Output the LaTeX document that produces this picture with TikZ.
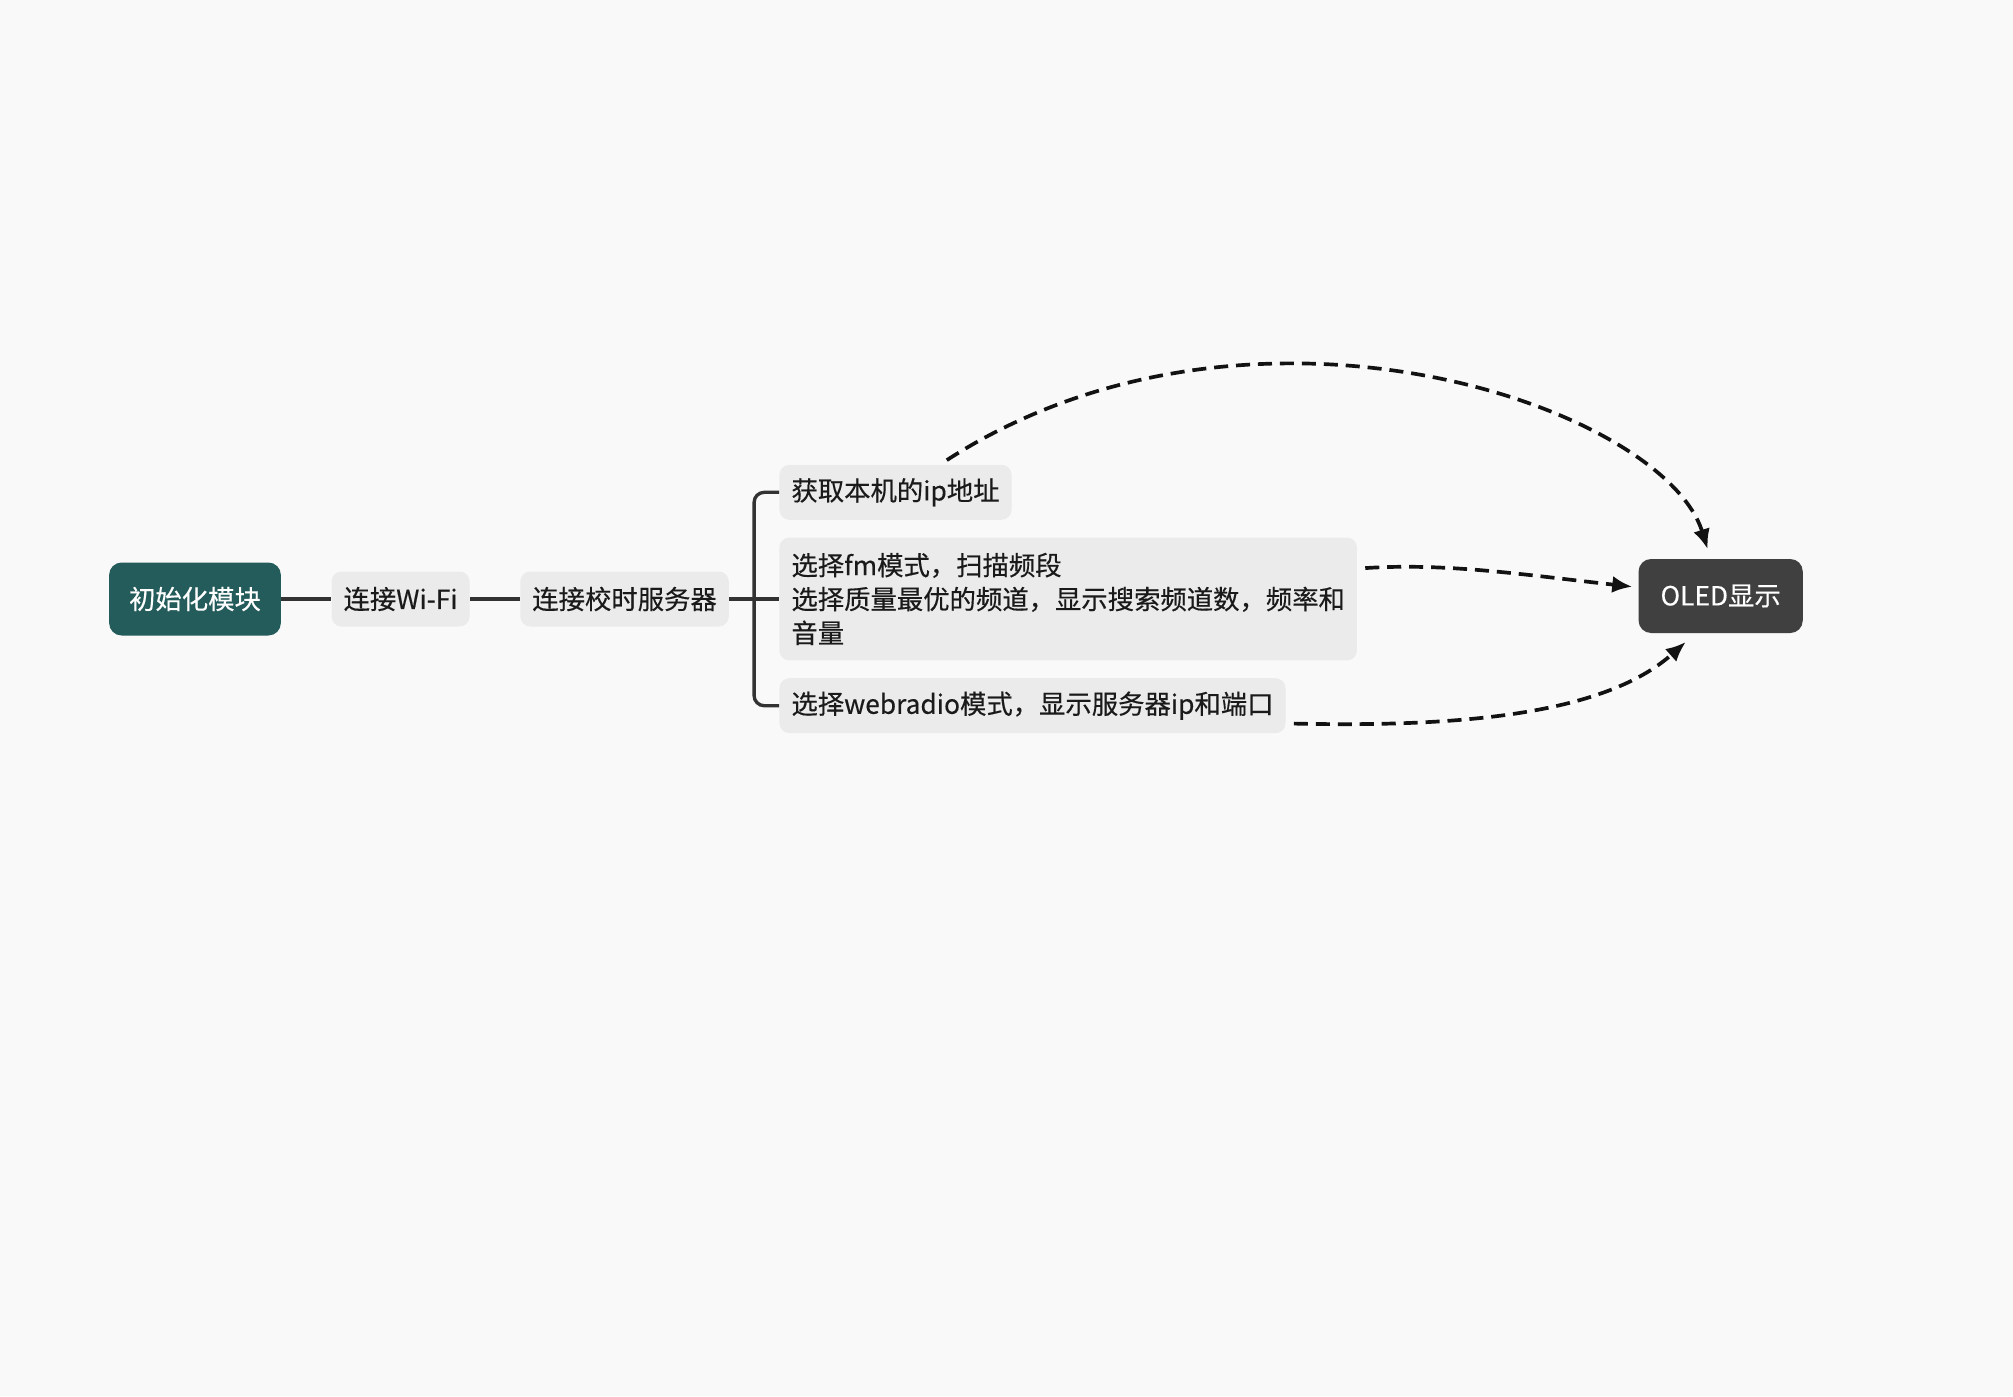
\documentclass[tikz,border=0pt]{standalone}
\usepackage{fontspec}
\newfontfamily\cjk[FakeBold=0.4]{Noto Sans CJK SC}
\usepackage{tikz}
\usetikzlibrary{positioning}
\usetikzlibrary{calc,arrows.meta}
\definecolor{bgc}{HTML}{F9F9F9}
\definecolor{boxc}{HTML}{EBEBEB}
\definecolor{rootc}{HTML}{245B5B}
\definecolor{oledc}{HTML}{404040}
\definecolor{linec}{HTML}{333333}
\definecolor{txtc}{HTML}{1A1A1A}
\tikzset{
	node distance = 1cm and 1cm,
	every node/.style = {font=\cjk\fontsize{15}{19.3}\selectfont},
	subbox/.style = {rectangle, rounded corners=0.2cm, fill=boxc, text=txtc,
	 inner xsep=0.24cm, inner ysep=0pt, minimum height=1.1cm, align=left},
	rootbox/.style = {subbox, fill=rootc, text=white, inner xsep=0.4cm,
	 minimum height=1.46cm, rounded corners=0.25cm},
	oledbox/.style = {subbox, fill=oledc, text=white, inner xsep=0.44cm,
	 minimum height=1.48cm, rounded corners=0.25cm},
	link/.style = {draw=linec, line width=1.9pt, rounded corners=0.2cm},
	flow/.style = {draw=black!93, line width=2.1pt, dash pattern=on 8pt off 4.5pt,
	 -{Latex[length=0.4cm,width=0.34cm]}, shorten <=0.16cm},
}

\begin{document}
\begin{tikzpicture}[x=0.02cm, y=-0.02cm]
	\fill[bgc] (0,0) rectangle (2013,1396);
	\node (root) [rootbox] at (195,599) {初始化模块};
	\node (wifi) [subbox, right = of root] {连接Wi-Fi};
    \node (srv) [subbox, right = of wifi] {连接校时服务器};
    \node (fm) [subbox, right = of srv, minimum height=2.46cm] {选择fm模式，扫描频段\\选择质量最优的频道，显示搜索频道数，频率和\\音量};
   \node (ip) [subbox, above = 0.34cm of fm.north west, anchor=south west] {获取本机的ip地址};
   \node (web) [subbox, below = 0.34cm of fm.south west, anchor=north west] {选择webradio模式，显示服务器ip和端口};
   \node (oled) [oledbox, right = 5.62cm of fm, yshift=0.06cm] {OLED显示};
   \coordinate (br) at ($(srv.east)!0.5!(fm.west)$);
             \path [link] (root) -- (wifi);
               \path [link] (wifi) -- (srv);
                \path [link] (srv) -- (fm.west);
               \path [link] (ip.west) -| (br) |- (web.west);
   \path [flow, shorten >=0.2cm] (ip.32) .. controls +(310,-200) and +(-48,-153) .. (oled.105);
   \path [flow, shorten >=0.12cm] (fm.6) .. controls +(90,-6) and +(-110,-12) .. (oled.174);
   \path [flow, shorten >=0.26cm] (web.-4) .. controls +(180,4) and +(-90,80) .. (oled.236);
\end{tikzpicture}
\end{document}
